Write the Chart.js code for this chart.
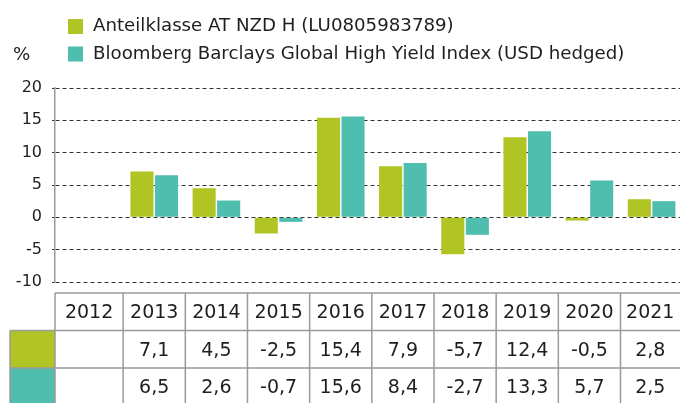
<!DOCTYPE html>
<html>
<head>
<meta charset="utf-8">
<script src="https://cdn.jsdelivr.net/npm/chart.js@4/dist/chart.umd.min.js"></script>
<style>
html, body { margin: 0; padding: 0; background: #fff; }
#wrap { position: relative; width: 680px; height: 403px; }
</style>
</head>
<body>
<div id="wrap"><canvas id="chart"></canvas></div>
<script>
// data ----------------------------------------------------------------
var years = [2012, 2013, 2014, 2015, 2016, 2017, 2018, 2019, 2020, 2021];
var fundValues = [null, 7.1, 4.5, -2.5, 15.4, 7.9, -5.7, 12.4, -0.5, 2.8];
var indexValues = [null, 6.5, 2.6, -0.7, 15.6, 8.4, -2.7, 13.3, 5.7, 2.5];
var seriesNames = ['Anteilklasse AT NZD H (LU0805983789)', 'Bloomberg Barclays Global High Yield Index (USD hedged)'];
var seriesColors = ['#B0C424', '#50BEAF'];
var yTicks = [-10, -5, 0, 5, 10, 15, 20];
var unitLabel = '%';

var FONT = '"DejaVu Sans", sans-serif';
var TEXT = '#1e1e1e';
var LINE = '#9a9a9a';

function fmt(v) {
    if (v === null || v === undefined) return '';
    return v.toFixed(1).replace('.', ',');
}

// legend, unit and data table under the plot --------------------------
var extras = {
    id: 'extras',
    afterDraw: function (chart) {
        var ctx = chart.ctx;
        var area = chart.chartArea;
        var xs = chart.scales.x;
        var ds = chart.data.datasets;
        var labels = chart.data.labels;

        ctx.save();
        ctx.font = '18.2px ' + FONT;
        ctx.textBaseline = 'middle';
        ctx.textAlign = 'left';
        ctx.fillStyle = TEXT;
        ctx.fillText(unitLabel, 13, 55);

        ds.forEach(function (d, i) {
            var cy = 26.5 + i * 27.5;
            ctx.fillStyle = d.backgroundColor;
            ctx.fillRect(68, cy - 7.5, 15, 15);
            ctx.fillStyle = TEXT;
            ctx.fillText(d.label, 93, cy);
        });

        // table geometry
        var top = area.bottom + 11;
        var rowH = 37.5;
        var bottom = top + rowH * 3;
        var left = 10;
        var edges = labels.map(function (v) { return xs.getPixelForValue(v - 0.5); });
        edges[0] = area.left;
        edges.push(xs.getPixelForValue(labels[labels.length - 1] + 0.5));

        // swatches
        ds.forEach(function (d, i) {
            ctx.fillStyle = d.backgroundColor;
            ctx.fillRect(left, top + rowH * (i + 1), area.left - left, rowH);
        });

        ctx.strokeStyle = LINE;
        ctx.lineWidth = 1.5;
        ctx.beginPath();
        ctx.moveTo(area.left, top); ctx.lineTo(chart.width, top);
        ctx.moveTo(left, top + rowH); ctx.lineTo(chart.width, top + rowH);
        ctx.moveTo(left, top + rowH * 2); ctx.lineTo(chart.width, top + rowH * 2);
        edges.forEach(function (ex) { ctx.moveTo(ex, top); ctx.lineTo(ex, bottom); });
        ctx.moveTo(left, top + rowH); ctx.lineTo(left, bottom);
        ctx.stroke();

        // cell texts
        ctx.font = '19px ' + FONT;
        ctx.textAlign = 'center';
        ctx.fillStyle = TEXT;
        labels.forEach(function (lab, j) {
            var cx = (edges[j] + Math.min(edges[j + 1], chart.width)) / 2;
            ctx.fillText(String(lab), cx, top + rowH * 0.5 + 1.5);
            ds.forEach(function (d, i) {
                ctx.fillText(fmt(d.data[j]), cx, top + rowH * (i + 1.5) + 1.5);
            });
        });
        ctx.restore();
    }
};

var canvas = document.getElementById('chart');
var chart = new Chart(canvas.getContext('2d'), {
    type: 'bar',
    data: {
        labels: years,
        datasets: [{
            label: seriesNames[0],
            data: fundValues,
            backgroundColor: seriesColors[0],
            barPercentage: 0.94,
            categoryPercentage: 0.79
        }, {
            label: seriesNames[1],
            data: indexValues,
            backgroundColor: seriesColors[1],
            barPercentage: 0.94,
            categoryPercentage: 0.79
        }]
    },
    options: {
        responsive: true,
        maintainAspectRatio: false,
        animation: false,
        layout: { padding: { top: 88, bottom: 121, left: 0, right: 0 } },
        plugins: { legend: { display: false }, tooltip: { enabled: false } },
        scales: {
            x: {
                type: 'linear',
                display: false,
                offset: false,
                bounds: 'data',
                min: 2011.404,
                max: 2021.457,
                afterBuildTicks: function (s) {
                    s.ticks = years.map(function (v) { return { value: v }; });
                }
            },
            y: {
                min: yTicks[0],
                max: yTicks[yTicks.length - 1],
                afterBuildTicks: function (s) {
                    s.ticks = yTicks.map(function (v) { return { value: v }; });
                },
                afterFit: function (s) { s.width = 55; },
                grid: { color: '#333', lineWidth: 1, tickLength: 3, tickColor: '#333' },
                border: { display: true, color: LINE, width: 1.5, dash: [4, 3] },
                ticks: {
                    color: TEXT,
                    padding: 10,
                    font: { family: 'DejaVu Sans', size: 16 },
                    callback: function (v) { return String(v); }
                }
            }
        }
    },
    plugins: [extras]
});
</script>
</body>
</html>
